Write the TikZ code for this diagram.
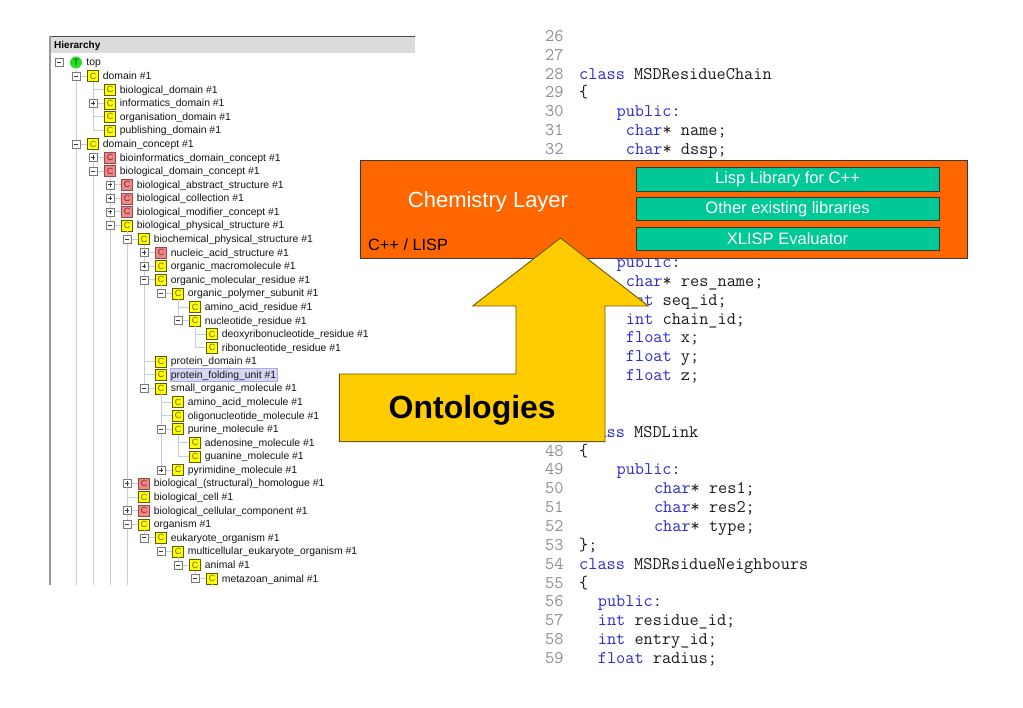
\documentclass[tikz,border=0pt]{standalone}
\usepackage{fontspec}
\setmainfont{Liberation Sans}
\usepackage{xcolor}
\usetikzlibrary{positioning}

\definecolor{iconyellow}{HTML}{FFFF00}
\definecolor{iconyellowline}{HTML}{5C5C00}
\definecolor{iconyellowtext}{HTML}{7A6200}
\definecolor{iconred}{HTML}{E98A8A}
\definecolor{iconredline}{HTML}{A04545}
\definecolor{iconredtext}{HTML}{9A1C1C}
\definecolor{icongreen}{HTML}{25DD25}
\definecolor{icongreentext}{HTML}{0A5A0A}
\definecolor{clrtreeline}{HTML}{C3CFDD}
\definecolor{treetext}{HTML}{141414}
\definecolor{expline}{HTML}{7A7A7A}
\definecolor{expsigncol}{HTML}{3A3A3A}
\definecolor{hilite}{HTML}{D6D6F5}
\definecolor{hiliteline}{HTML}{A9A9E6}
\definecolor{headergray}{HTML}{DCDCDC}
\definecolor{chemorange}{HTML}{FF6600}
\definecolor{chemline}{HTML}{3A3A3A}
\definecolor{libteal}{HTML}{00C896}
\definecolor{libline}{HTML}{24403A}
\definecolor{ontoyellow}{HTML}{FFCC00}
\definecolor{ontoline}{HTML}{6B5800}
\definecolor{kwblue}{HTML}{2B2BD0}
\definecolor{clrlineno}{HTML}{8E8E8E}
\definecolor{codetext}{HTML}{1C1C1C}

\newcommand{\kwd}[1]{\textcolor{kwblue}{#1}}

\tikzset{
  icon/.style={minimum size=11pt, inner sep=0pt, font=\fontsize{9}{9}\selectfont},
  yicon/.style={icon, draw=iconyellowline, fill=iconyellow, text=iconyellowtext},
  ricon/.style={icon, draw=iconredline, fill=iconred, text=iconredtext},
  ticon/.style={icon, circle, minimum size=12pt, fill=icongreen, text=icongreentext},
  lbl/.style={inner sep=0pt, text height=8.5pt, text depth=1.5pt, font=\fontsize{10.4}{12}\selectfont, text=treetext},
  expbox/.style={draw=expline, fill=white, minimum size=8pt, inner sep=0pt},
  expminus/.style={expbox, path picture={\draw[expsigncol, line width=0.8pt] ([xshift=1.8pt]path picture bounding box.west) -- ([xshift=-1.8pt]path picture bounding box.east);}},
  expplus/.style={expbox, path picture={\draw[expsigncol, line width=0.8pt] ([xshift=1.8pt]path picture bounding box.west) -- ([xshift=-1.8pt]path picture bounding box.east) ([yshift=-1.8pt]path picture bounding box.north) -- ([yshift=1.8pt]path picture bounding box.south);}},
  treeline/.style={draw=clrtreeline, line width=0.8pt},
  code/.style={anchor=base west, inner sep=0pt, font=\fontsize{17.8}{20}\ttfamily, text=codetext},
  lineno/.style={code, text=clrlineno},
  chembox/.style={draw=chemline, line width=0.8pt, fill=chemorange, minimum width=607pt, minimum height=98pt, inner sep=0pt},
  libbox/.style={draw=libline, line width=0.8pt, fill=libteal, minimum width=303pt, minimum height=23.5pt, inner sep=0pt, text=white, font=\fontsize{16.5}{18}\selectfont},
  ontoarrow/.style={draw=ontoline, line width=0.9pt, fill=ontoyellow, line join=miter}
}

\begin{document}
\begin{tikzpicture}[x=1pt, y=-1pt]
   \useasboundingbox (0,0) rectangle (1023,708);

   % hierarchy panel
   \fill[headergray] (50,37) rectangle (415,53);
   \draw[black!70, line width=1.2pt] (50,36.5) -- (415,36.5);
   \draw[black!40, line width=1.5pt] (50,36.5) -- (50,585);
   \node[anchor=west, inner sep=0pt, font=\fontsize{10}{12}\selectfont\bfseries] (hier) at (54,45.5) {Hierarchy};

   \begin{scope}[shift={(76,62.5)}, x=17pt, y=-13.58pt]
   \coordinate (panelbot) at (-1,38.5);
   \node[ticon] (r1) at (0,0) {T};   \node[lbl, right=4pt of r1] (t1) {top};
   \node[yicon] (r2) at (1,1) {C};   \node[lbl, right=4pt of r2] (t2) {domain \#1};
   \node[yicon] (r3) at (2,2) {C};   \node[lbl, right=4pt of r3] (t3) {biological\_domain \#1};
   \node[yicon] (r4) at (2,3) {C};   \node[lbl, right=4pt of r4] (t4) {informatics\_domain \#1};
   \node[yicon] (r5) at (2,4) {C};   \node[lbl, right=4pt of r5] (t5) {organisation\_domain \#1};
   \node[yicon] (r6) at (2,5) {C};   \node[lbl, right=4pt of r6] (t6) {publishing\_domain \#1};
   \node[yicon] (r7) at (1,6) {C};   \node[lbl, right=4pt of r7] (t7) {domain\_concept \#1};
   \node[ricon] (r8) at (2,7) {C};   \node[lbl, right=4pt of r8] (t8) {bioinformatics\_domain\_concept \#1};
   \node[ricon] (r9) at (2,8) {C};   \node[lbl, right=4pt of r9] (t9) {biological\_domain\_concept \#1};
   \node[ricon] (r10) at (3,9) {C};  \node[lbl, right=4pt of r10] (t10) {biological\_abstract\_structure \#1};
   \node[ricon] (r11) at (3,10) {C}; \node[lbl, right=4pt of r11] (t11) {biological\_collection \#1};
   \node[ricon] (r12) at (3,11) {C}; \node[lbl, right=4pt of r12] (t12) {biological\_modifier\_concept \#1};
   \node[yicon] (r13) at (3,12) {C}; \node[lbl, right=4pt of r13] (t13) {biological\_physical\_structure \#1};
   \node[yicon] (r14) at (4,13) {C}; \node[lbl, right=4pt of r14] (t14) {biochemical\_physical\_structure \#1};
   \node[ricon] (r15) at (5,14) {C}; \node[lbl, right=4pt of r15] (t15) {nucleic\_acid\_structure \#1};
   \node[yicon] (r16) at (5,15) {C}; \node[lbl, right=4pt of r16] (t16) {organic\_macromolecule \#1};
   \node[yicon] (r17) at (5,16) {C}; \node[lbl, right=4pt of r17] (t17) {organic\_molecular\_residue \#1};
   \node[yicon] (r18) at (6,17) {C}; \node[lbl, right=4pt of r18] (t18) {organic\_polymer\_subunit \#1};
   \node[yicon] (r19) at (7,18) {C}; \node[lbl, right=4pt of r19] (t19) {amino\_acid\_residue \#1};
   \node[yicon] (r20) at (7,19) {C}; \node[lbl, right=4pt of r20] (t20) {nucleotide\_residue \#1};
   \node[yicon] (r21) at (8,20) {C}; \node[lbl, right=4pt of r21] (t21) {deoxyribonucleotide\_residue \#1};
   \node[yicon] (r22) at (8,21) {C}; \node[lbl, right=4pt of r22] (t22) {ribonucleotide\_residue \#1};
   \node[yicon] (r23) at (5,22) {C}; \node[lbl, right=4pt of r23] (t23) {protein\_domain \#1};
   \node[yicon] (r24) at (5,23) {C}; \node[lbl, right=3pt of r24, fill=hilite, draw=hiliteline, inner xsep=1pt, inner ysep=1.3pt] (t24) {protein\_folding\_unit \#1};
   \node[yicon] (r25) at (5,24) {C}; \node[lbl, right=4pt of r25] (t25) {small\_organic\_molecule \#1};
   \node[yicon] (r26) at (6,25) {C}; \node[lbl, right=4pt of r26] (t26) {amino\_acid\_molecule \#1};
   \node[yicon] (r27) at (6,26) {C}; \node[lbl, right=4pt of r27] (t27) {oligonucleotide\_molecule \#1};
   \node[yicon] (r28) at (6,27) {C}; \node[lbl, right=4pt of r28] (t28) {purine\_molecule \#1};
   \node[yicon] (r29) at (7,28) {C}; \node[lbl, right=4pt of r29] (t29) {adenosine\_molecule \#1};
   \node[yicon] (r30) at (7,29) {C}; \node[lbl, right=4pt of r30] (t30) {guanine\_molecule \#1};
   \node[yicon] (r31) at (6,30) {C}; \node[lbl, right=4pt of r31] (t31) {pyrimidine\_molecule \#1};
   \node[ricon] (r32) at (4,31) {C}; \node[lbl, right=4pt of r32] (t32) {biological\_(structural)\_homologue \#1};
   \node[yicon] (r33) at (4,32) {C}; \node[lbl, right=4pt of r33] (t33) {biological\_cell \#1};
   \node[ricon] (r34) at (4,33) {C}; \node[lbl, right=4pt of r34] (t34) {biological\_cellular\_component \#1};
   \node[yicon] (r35) at (4,34) {C}; \node[lbl, right=4pt of r35] (t35) {organism \#1};
   \node[yicon] (r36) at (5,35) {C}; \node[lbl, right=4pt of r36] (t36) {eukaryote\_organism \#1};
   \node[yicon] (r37) at (6,36) {C}; \node[lbl, right=4pt of r37] (t37) {multicellular\_eukaryote\_organism \#1};
   \node[yicon] (r38) at (7,37) {C}; \node[lbl, right=4pt of r38] (t38) {animal \#1};
   \node[yicon] (r39) at (8,38) {C}; \node[lbl, right=4pt of r39] (t39) {metazoan\_animal \#1};

   % tree lines
   \draw[treeline] (r1) -- (r1 |- panelbot) (r1 |- r2) -- (r2) (r1 |- r7) -- (r7);
   \draw[treeline] (r2) -- (r2 |- r6) (r2 |- r3) -- (r3) (r2 |- r4) -- (r4) (r2 |- r5) -- (r5) (r2 |- r6) -- (r6);
   \draw[treeline] (r7) -- (r7 |- panelbot) (r7 |- r8) -- (r8) (r7 |- r9) -- (r9);
   \draw[treeline] (r9) -- (r9 |- panelbot) (r9 |- r10) -- (r10) (r9 |- r11) -- (r11) (r9 |- r12) -- (r12) (r9 |- r13) -- (r13);
   \draw[treeline] (r13) -- (r13 |- panelbot) (r13 |- r14) -- (r14) (r13 |- r32) -- (r32) (r13 |- r33) -- (r33) (r13 |- r34) -- (r34) (r13 |- r35) -- (r35);
   \draw[treeline] (r14) -- (r14 |- r25) (r14 |- r15) -- (r15) (r14 |- r16) -- (r16) (r14 |- r17) -- (r17) (r14 |- r23) -- (r23) (r14 |- r24) -- (r24) (r14 |- r25) -- (r25);
   \draw[treeline] (r17) |- (r18);
   \draw[treeline] (r18) -- (r18 |- r20) (r18 |- r19) -- (r19) (r18 |- r20) -- (r20);
   \draw[treeline] (r20) -- (r20 |- r22) (r20 |- r21) -- (r21) (r20 |- r22) -- (r22);
   \draw[treeline] (r25) -- (r25 |- r31) (r25 |- r26) -- (r26) (r25 |- r27) -- (r27) (r25 |- r28) -- (r28) (r25 |- r31) -- (r31);
   \draw[treeline] (r28) -- (r28 |- r30) (r28 |- r29) -- (r29) (r28 |- r30) -- (r30);
   \draw[treeline] (r35) |- (r36) (r36) |- (r37) (r37) |- (r38) (r38) |- (r39) (r39) -- (r39 |- panelbot);

   % expand handles
   \node[expminus] (e1) at (-1,0) {};
   \node[expminus] (e2) at (r1 |- r2) {};
   \node[expplus] (e4) at (r2 |- r4) {};
   \node[expminus] (e7) at (r1 |- r7) {};
   \node[expplus] (e8) at (r7 |- r8) {};
   \node[expminus] (e9) at (r7 |- r9) {};
   \node[expplus] (e10) at (r9 |- r10) {};
   \node[expplus] (e11) at (r9 |- r11) {};
   \node[expplus] (e12) at (r9 |- r12) {};
   \node[expminus] (e13) at (r9 |- r13) {};
   \node[expminus] (e14) at (r13 |- r14) {};
   \node[expplus] (e15) at (r14 |- r15) {};
   \node[expplus] (e16) at (r14 |- r16) {};
   \node[expminus] (e17) at (r14 |- r17) {};
   \node[expminus] (e18) at (r17 |- r18) {};
   \node[expminus] (e20) at (r18 |- r20) {};
   \node[expminus] (e25) at (r14 |- r25) {};
   \node[expminus] (e28) at (r25 |- r28) {};
   \node[expplus] (e31) at (r25 |- r31) {};
   \node[expplus] (e32) at (r13 |- r32) {};
   \node[expplus] (e34) at (r13 |- r34) {};
   \node[expminus] (e35) at (r13 |- r35) {};
   \node[expminus] (e36) at (r35 |- r36) {};
   \node[expminus] (e37) at (r36 |- r37) {};
   \node[expminus] (e38) at (r37 |- r38) {};
   \node[expminus] (e39) at (r38 |- r39) {};
   \end{scope}

   % source listing
   \begin{scope}[shift={(545,41.4)}, x=9.36pt, y=-18.85pt]
   \node[lineno] (n26) at (0,0) {26};
   \node[lineno] (n27) at (0,1) {27};
   \node[lineno] (n28) at (0,2) {28};  \node[code] (c28) at (3.63,2) {\kwd{class} MSDResidueChain};
   \node[lineno] (n29) at (0,3) {29};  \node[code] (c29) at (3.63,3) {\{};
   \node[lineno] (n30) at (0,4) {30};  \node[code] (c30) at (7.63,4) {\kwd{public}:};
   \node[lineno] (n31) at (0,5) {31};  \node[code] (c31) at (8.63,5) {\kwd{char}* name;};
   \node[lineno] (n32) at (0,6) {32};  \node[code] (c32) at (8.63,6) {\kwd{char}* dssp;};
   \node[code] (c38) at (7.63,12) {\kwd{public}:};
   \node[code] (c39) at (8.63,13) {\kwd{char}* res\_name;};
   \node[code] (c40) at (8.63,14) {\kwd{int} seq\_id;};
   \node[code] (c41) at (8.63,15) {\kwd{int} chain\_id;};
   \node[code] (c42) at (8.63,16) {\kwd{float} x;};
   \node[code] (c43) at (8.63,17) {\kwd{float} y;};
   \node[code] (c44) at (8.63,18) {\kwd{float} z;};
   \node[code] (c47) at (3.63,21) {\kwd{class} MSDLink};
   \node[lineno] (n48) at (0,22) {48};  \node[code] (c48) at (3.63,22) {\{};
   \node[lineno] (n49) at (0,23) {49};  \node[code] (c49) at (7.63,23) {\kwd{public}:};
   \node[lineno] (n50) at (0,24) {50};  \node[code] (c50) at (11.63,24) {\kwd{char}* res1;};
   \node[lineno] (n51) at (0,25) {51};  \node[code] (c51) at (11.63,25) {\kwd{char}* res2;};
   \node[lineno] (n52) at (0,26) {52};  \node[code] (c52) at (11.63,26) {\kwd{char}* type;};
   \node[lineno] (n53) at (0,27) {53};  \node[code] (c53) at (3.63,27) {\};};
   \node[lineno] (n54) at (0,28) {54};  \node[code] (c54) at (3.63,28) {\kwd{class} MSDRsidueNeighbours};
   \node[lineno] (n55) at (0,29) {55};  \node[code] (c55) at (3.63,29) {\{};
   \node[lineno] (n56) at (0,30) {56};  \node[code] (c56) at (5.63,30) {\kwd{public}:};
   \node[lineno] (n57) at (0,31) {57};  \node[code] (c57) at (5.63,31) {\kwd{int} residue\_id;};
   \node[lineno] (n58) at (0,32) {58};  \node[code] (c58) at (5.63,32) {\kwd{int} entry\_id;};
   \node[lineno] (n59) at (0,33) {59};  \node[code] (c59) at (5.63,33) {\kwd{float} radius;};
   \end{scope}

   % chemistry layer
   \node[chembox, anchor=north west] (chem) at (360,160) {};
   \node[text=white, inner sep=0pt, font=\fontsize{22}{24}\selectfont] (chemname) at (488,201.7) {Chemistry Layer};
   \node[anchor=base west, inner sep=0pt, font=\fontsize{16.3}{18}\selectfont] (lang) at (368,250.2) {C++ / LISP};
   \node[libbox] (lib1) at (787.5,179.2) {Lisp Library for C++};
   \node[libbox, below=5.5pt of lib1] (lib2) {Other existing libraries};
   \node[libbox, below=5.5pt of lib2] (lib3) {XLISP Evaluator};

   % ontologies arrow
   \draw[ontoarrow] (339.3,374) -- (516,374) -- (516,306) -- (472.7,306) -- (560.5,238)
      -- (648.3,306) -- (605,306) -- (605,441.7) -- (339.3,441.7) -- cycle;
   \node[inner sep=0pt, font=\fontsize{32}{35}\selectfont\bfseries] (onto) at (472.2,410) {Ontologies};
\end{tikzpicture}
\end{document}
